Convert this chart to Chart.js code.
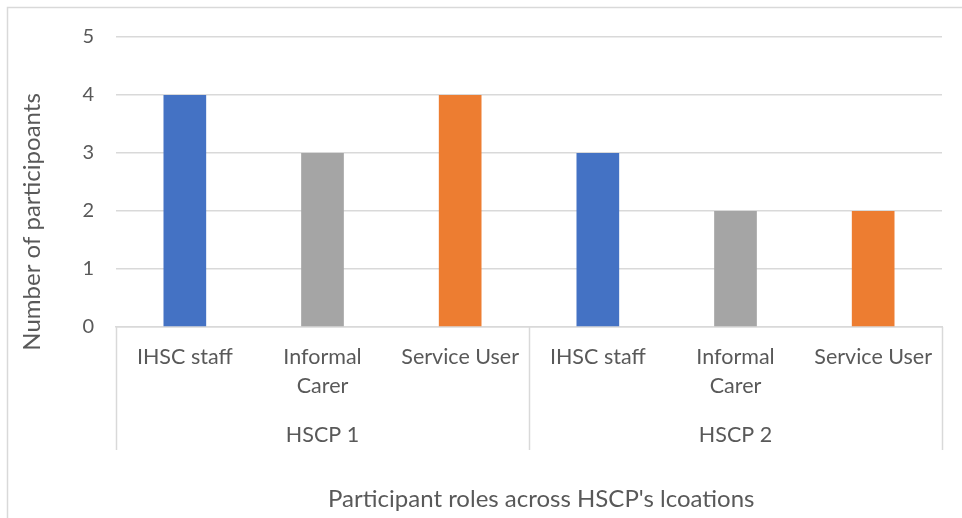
<!DOCTYPE html>
<html>
<head>
<meta charset="utf-8">
<script src="https://cdn.jsdelivr.net/npm/chart.js@4/dist/chart.umd.min.js"></script>
<style>
  html, body { margin: 0; padding: 0; background: #fff; }
  #wrap { position: relative; width: 962px; height: 518px; }
</style>
</head>
<body>
<div id="wrap"><canvas id="c" width="962" height="518"></canvas></div>
<script>
// ---- data ----
const roles = [["IHSC staff"], ["Informal", "Carer"], ["Service User"], ["IHSC staff"], ["Informal", "Carer"], ["Service User"]];
const locations = ["HSCP 1", "HSCP 2"];
const participants = [4, 3, 4, 3, 2, 2];
const roleColors = ["#4472C4", "#A5A5A5", "#ED7D31", "#4472C4", "#A5A5A5", "#ED7D31"];
const yTicks = [0, 1, 2, 3, 4, 5];
const yTitle = "Number of participoants";
const xTitle = "Participant roles across HSCP's lcoations";

const TEXT = "#595959";
const GRID = "#D9D9D9";
const FONT = "Lato, 'Open Sans', sans-serif";

const decor = {
  id: 'decor',
  beforeDraw(chart) {
    const ctx = chart.ctx;
    ctx.save();
    ctx.strokeStyle = GRID;
    ctx.lineWidth = 1.5;
    ctx.beginPath();
    ctx.moveTo(7.5, chart.height);
    ctx.lineTo(7.5, 7.5);
    ctx.lineTo(chart.width, 7.5);
    ctx.stroke();
    ctx.restore();
  },
  afterDraw(chart) {
    const x = chart.scales.x, x2 = chart.scales.x2;
    const ctx = chart.ctx;
    ctx.save();
    ctx.strokeStyle = GRID;
    ctx.lineWidth = 1.5;
    const n = roles.length, per = n / locations.length;
    for (let g = 0; g <= locations.length; g++) {
      const px = Math.round(x.getPixelForValue(g * per - 0.5)) + 0.5;
      ctx.beginPath();
      ctx.moveTo(px, chart.chartArea.bottom);
      ctx.lineTo(px, x2.top + 47);
      ctx.stroke();
    }
    ctx.restore();
  }
};

new Chart(document.getElementById('c'), {
  type: 'bar',
  data: {
    labels: roles,
    datasets: [{
      data: participants,
      backgroundColor: roleColors,
      borderWidth: 0,
      barPercentage: 0.31,
      categoryPercentage: 1.0
    }]
  },
  options: {
    responsive: false,
    animation: false,
    layout: { padding: { top: 37, right: 20, left: 0, bottom: 0 } },
    plugins: { legend: { display: false }, tooltip: { enabled: false } },
    scales: {
      y: {
        min: 0, max: 5,
        afterBuildTicks(s) { s.ticks = yTicks.map(v => ({ value: v })); },
        afterFit(s) { s.width = 116; },
        grid: { color: GRID, lineWidth: 1.5, drawTicks: false },
        border: { display: false },
        ticks: { color: TEXT, font: { family: FONT, size: 20 }, padding: 22 },
        title: {
          display: true,
          text: yTitle + '\u00A0'.repeat(13),
          color: TEXT,
          font: { family: FONT, size: 24 },
          padding: { top: 18, bottom: 0 }
        }
      },
      x: {
        position: 'bottom',
        afterFit(s) { s.height = 76; },
        grid: { display: false, drawTicks: false },
        border: { display: true, color: GRID, width: 1.5 },
        ticks: { color: TEXT, font: { family: FONT, size: 21.5, lineHeight: '29px' }, padding: 16, maxRotation: 0, autoSkip: false }
      },
      x2: {
        type: 'category',
        position: 'bottom',
        labels: locations,
        offset: true,
        afterFit(s) { s.height = 115; },
        grid: { display: false, drawTicks: false },
        border: { display: false },
        ticks: { color: TEXT, font: { family: FONT, size: 21.5 }, padding: 19, maxRotation: 0 },
        title: {
          display: true,
          text: '\u00A0'.repeat(4) + xTitle,
          color: TEXT,
          font: { family: FONT, size: 24 },
          padding: { top: 0, bottom: 4 }
        }
      }
    }
  },
  plugins: [decor]
});
</script>
</body>
</html>
